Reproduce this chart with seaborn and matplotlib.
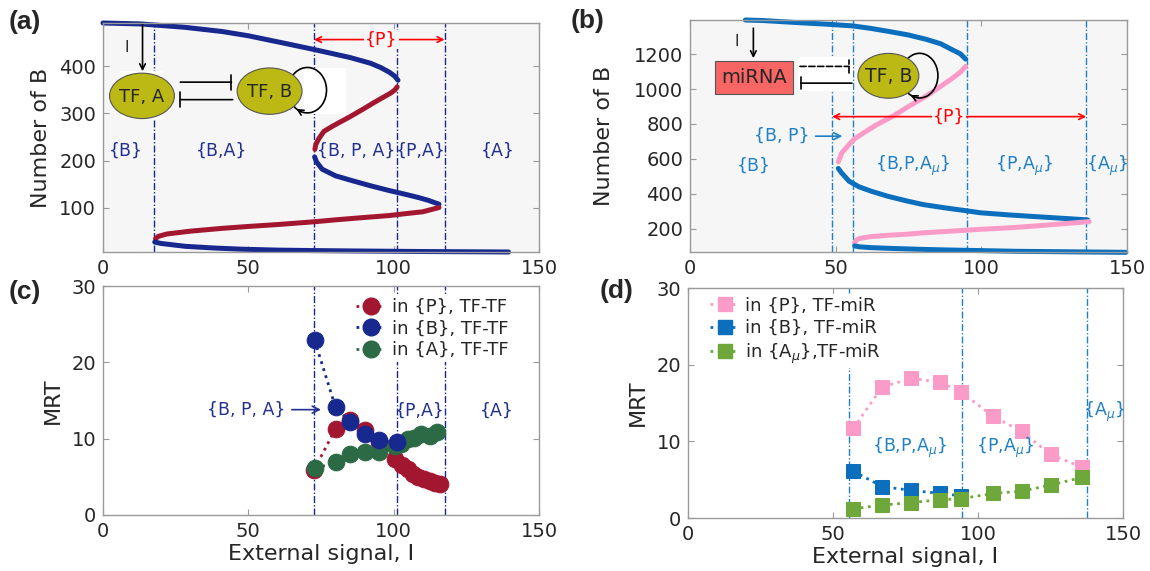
import numpy as np
import matplotlib
matplotlib.use('Agg')
import matplotlib.pyplot as plt
import seaborn as sns
from matplotlib.patches import Ellipse, Rectangle, Arc
from matplotlib.lines import Line2D

# ---------------- data ----------------
# panel (a): TF-TF bifurcation branches
a_top_x = [0, 13, 28, 41, 50, 61, 72.6, 85, 92, 95.5, 98.5, 100.3, 101.5]
a_top_y = [491, 489, 482, 473, 464, 450, 435, 418, 406, 397, 387, 379, 370]
a_uup_x = [101.2, 100.5, 99, 97, 93, 89.5, 85, 79.3, 76, 74.2, 73.2, 72.9]
a_uup_y = [356, 350, 343, 336, 322, 309, 293, 274, 262, 246, 234, 224]
a_mid_x = [72.8, 73.5, 75.4, 80, 85.6, 92, 98.4, 104, 108.6, 112, 115.6]
a_mid_y = [208, 197, 182, 168, 158, 147, 137, 129, 122, 116, 108]
a_ulo_x = [115.6, 110, 104, 98.4, 90, 80, 72.9, 60, 50, 41, 30, 21.9, 19, 18.1]
a_ulo_y = [101, 92, 88, 84, 80, 75, 71, 65, 61, 57, 51, 45, 40, 35]
a_bot_x = [17.8, 20, 28.3, 38, 47.4, 60, 72.9, 90, 110, 125, 139.5]
a_bot_y = [28, 25, 19, 15.5, 13, 11, 10, 9, 8, 7.5, 7]
a_vlines = [17.5, 72.6, 101.3, 117.5]

# panel (b): TF-miRNA bifurcation branches
b_top_x = [19, 25, 37, 47, 55.9, 62, 68.4, 75, 80.9, 86, 89.6, 92.8, 94.6]
b_top_y = [1396, 1393, 1381, 1372, 1362, 1348, 1330, 1310, 1286, 1260, 1229, 1202, 1172]
b_uup_x = [94.6, 93, 90.9, 86, 80.9, 75, 69.6, 64, 59.6, 56.5, 54.6, 52.1, 50.9]
b_uup_y = [1130, 1100, 1072, 1015, 958, 900, 844, 795, 749, 715, 682, 634, 583]
b_mid_x = [50.9, 52, 54.6, 58, 62.1, 68, 74.6, 80, 87.1, 95, 99.6, 110, 118.4, 128, 136.5]
b_mid_y = [545, 520, 472, 440, 415, 385, 358, 338, 320, 302, 291, 278, 269, 259, 250]
b_ulo_x = [137, 128, 118.4, 110, 99.6, 90, 80, 74.6, 68, 62.1, 58.5, 57.1, 56.5]
b_ulo_y = [240, 228, 215, 205, 196, 186, 176, 168, 162, 154, 145, 135, 117]
b_bot_x = [56.5, 58, 62.1, 70, 80, 87.1, 100, 112, 125, 137, 149.6]
b_bot_y = [101, 96, 91, 86, 81, 78, 74, 70, 68, 66, 64]
b_vlines = [48.8, 56, 95, 136]

# panel (c): MRT, TF-TF
c_P_x = [72.6, 80, 85, 90, 95, 100.5, 103, 105, 106.5, 108.5, 110.5, 112.5, 114.3, 116]
c_P_y = [5.9, 11.3, 12.5, 11.2, 9.5, 7.3, 6.6, 6.0, 5.4, 5.0, 4.7, 4.4, 4.2, 4.0]
c_B_x = [72.8, 80, 85, 90, 95, 101.2]
c_B_y = [22.9, 14.1, 12.2, 10.6, 9.8, 9.5]
c_A_x = [73, 80, 85, 90, 95, 100.5, 102.5, 105, 107, 109.5, 112.5, 115]
c_A_y = [6.1, 6.9, 8.0, 8.3, 8.3, 9.0, 9.3, 9.9, 10.1, 10.6, 10.4, 10.9]
c_labels = ['in {P}, TF-TF', 'in {B}, TF-TF', 'in {A}, TF-TF']

# panel (d): MRT, TF-miR
d_P_x = [57, 67, 77, 87, 94, 105, 115, 125, 136]
d_P_y = [11.7, 17.1, 18.2, 17.7, 16.5, 13.3, 11.3, 8.3, 6.6]
d_B_x = [57, 67, 77, 87, 94]
d_B_y = [6.1, 4.1, 3.6, 3.2, 2.9]
d_A_x = [57, 67, 77, 87, 94, 105, 115, 125, 136]
d_A_y = [1.2, 1.7, 2.0, 2.4, 2.5, 3.2, 3.5, 4.3, 5.3]
d_labels = ['in {P}, TF-miR', 'in {B}, TF-miR', r'in {A$_{\mu}$},TF-miR']

x_ticks = [0, 50, 100, 150]

# ---------------- style ----------------
sns.set_style('ticks')
plt.rcParams['font.family'] = ['DejaVu Sans']
plt.rcParams['mathtext.fontset'] = 'dejavusans'

RED = '#a3162f'
NAVY = '#17288f'
GREEN = '#2b6a45'
PINK = '#fb9cc8'
BLUE = '#0b6fbd'
LGREEN = '#6ea83a'
LAB_A = '#22318f'
LAB_B = '#1f80c6'
OLIVE = '#bcb814'
BG = '#f6f6f6'
SP = '#9a9a9a'

fig = plt.figure(figsize=(11.5, 5.71), dpi=100)
W, H = 1150, 571
def frac(l, t, r, b):
    return [l / W, 1 - b / H, (r - l) / W, (b - t) / H]

axA = fig.add_axes(frac(103, 23, 539, 252))
axB = fig.add_axes(frac(690, 20, 1127, 252))
axC = fig.add_axes(frac(103, 286, 539, 515))
axD = fig.add_axes(frac(688, 288, 1123, 518))

def style(ax, bg):
    ax.set_facecolor(bg)
    for s in ax.spines.values():
        s.set_color(SP)
        s.set_linewidth(1.0)
        s.set_visible(True)
    ax.tick_params(direction='in', top=True, right=True, color=SP, length=4,
                   labelcolor='#262626', labelsize=14, pad=5)
    ax.set_xlim(0, 150)
    ax.set_xticks(x_ticks)

for ax, bg in [(axA, BG), (axB, BG), (axC, 'white'), (axD, 'white')]:
    style(ax, bg)

dashdot = (0, (5, 1.5, 1, 1.5))

def branch(ax, x, y, color):
    sns.lineplot(x=x, y=y, ax=ax, color=color, lw=3.6, sort=False, estimator=None,
                 clip_on=False, solid_capstyle='round', zorder=2)

def tbar(ax, start, end, width, ls='-'):
    ax.annotate('', xy=end, xytext=start,
                arrowprops=dict(arrowstyle='|-|,widthA=0,widthB=%.2f' % width, color='k', lw=1.2,
                                ls=ls, shrinkA=0, shrinkB=0), zorder=5)

def selfloop(ax, cx, cy, rx, ry, t1, t2):
    # arc drawn clockwise from t2 (top) to t1 (bottom), arrow head at t1; hidden behind the ellipse
    ax.add_patch(Arc((cx, cy), 2 * rx, 2 * ry, theta1=t1 + 8, theta2=t2, color='k', lw=1.2, zorder=4.2))
    p_end = (cx + rx * np.cos(np.radians(t1)), cy + ry * np.sin(np.radians(t1)))
    p_pre = (cx + rx * np.cos(np.radians(t1 + 14)), cy + ry * np.sin(np.radians(t1 + 14)))
    ax.annotate('', xy=p_end, xytext=p_pre,
                arrowprops=dict(arrowstyle='->', color='k', lw=1.2, shrinkA=0, shrinkB=0), zorder=5)

# ---------------- (a) ----------------
axA.set_ylim(7, 491)
axA.set_yticks([100, 200, 300, 400])
for v in a_vlines:
    axA.axvline(v, color=NAVY, lw=1, ls=dashdot, zorder=1)
branch(axA, a_top_x, a_top_y, NAVY)
branch(axA, a_uup_x, a_uup_y, RED)
branch(axA, a_mid_x, a_mid_y, NAVY)
branch(axA, a_ulo_x, a_ulo_y, RED)
branch(axA, a_bot_x, a_bot_y, NAVY)
axA.set_ylabel('Number of B', fontsize=16, color='#262626', labelpad=6)
axA.set_xlabel('')
for xx, t in [(7.9, '{B}'), (40.7, '{B,A}'), (87, '{B, P, A}'), (109.2, '{P,A}'), (136, '{A}')]:
    axA.text(xx, 221, t, color=LAB_A, fontsize=12.5, ha='center', va='center', zorder=5)
axA.annotate('', xy=(72.6, 456), xytext=(117.5, 456),
             arrowprops=dict(arrowstyle='<->', color='red', lw=1.2, shrinkA=0, shrinkB=0), zorder=5)
axA.text(95.8, 456, '{P}', color='red', fontsize=12.5, ha='center', va='center', zorder=6,
         bbox=dict(boxstyle='square,pad=0.05', fc=BG, ec='none'))
# inset network diagram
axA.add_patch(Rectangle((6, 288), 14.6, 102, fc='white', ec='none', zorder=3))
axA.add_patch(Rectangle((69.1, 298), 14.6, 98.5, fc='white', ec='none', zorder=3))
selfloop(axA, 70.3, 349, 6.6, 48, -125, 130)
axA.add_patch(Ellipse((13.4, 337), 22.3, 96, fc=OLIVE, ec='#555555', lw=0.8, zorder=4))
axA.add_patch(Ellipse((57.3, 347), 22.3, 98, fc=OLIVE, ec='#555555', lw=0.8, zorder=4.5))
axA.text(13.4, 335, 'TF, A', fontsize=13, ha='center', va='center', zorder=5)
axA.text(57.3, 345, 'TF, B', fontsize=13, ha='center', va='center', zorder=5)
axA.text(8, 440, 'I', fontsize=11, ha='center', va='center', zorder=5)
axA.annotate('', xy=(13.6, 389), xytext=(13.6, 487),
             arrowprops=dict(arrowstyle='->', color='k', lw=1.2, shrinkA=0, shrinkB=0), zorder=5)
tbar(axA, (26.6, 366), (44.2, 366), 0.55)
tbar(axA, (44.6, 329), (26.6, 329), 0.55)

# ---------------- (b) ----------------
axB.set_ylim(66, 1396)
axB.set_yticks([200, 400, 600, 800, 1000, 1200])
for v in b_vlines:
    axB.axvline(v, color=LAB_B, lw=1, ls=dashdot, zorder=1)
branch(axB, b_top_x, b_top_y, BLUE)
branch(axB, b_uup_x, b_uup_y, PINK)
branch(axB, b_mid_x, b_mid_y, BLUE)
branch(axB, b_ulo_x, b_ulo_y, PINK)
branch(axB, b_bot_x, b_bot_y, BLUE)
axB.set_ylabel('Number of B', fontsize=16, color='#262626', labelpad=14)
axB.set_xlabel('')
for xx, yy, t in [(21.9, 558, '{B}'), (76.5, 558, r'{B,P,A$_{\mu}$}'),
                  (114.6, 558, r'{P,A$_{\mu}$}'), (143, 558, r'{A$_{\mu}$}')]:
    axB.text(xx, yy, t, color=LAB_B, fontsize=12.5, ha='center', va='center', zorder=5)
axB.annotate('', xy=(48.8, 842), xytext=(136, 842),
             arrowprops=dict(arrowstyle='<->', color='red', lw=1.2, shrinkA=0, shrinkB=0), zorder=5)
axB.text(89, 842, '{P}', color='red', fontsize=12.5, ha='center', va='center', zorder=6,
         bbox=dict(boxstyle='square,pad=0.05', fc=BG, ec='none'))
axB.annotate('{B, P}', xy=(52.3, 730), xytext=(31.5, 730), color=LAB_B, fontsize=12.5,
             ha='center', va='center', zorder=5,
             arrowprops=dict(arrowstyle='->', color=LAB_B, lw=1.2, shrinkA=2, shrinkB=0))
axB.add_patch(Rectangle((37.1, 987), 18.8, 196, fc='white', ec='none', zorder=3))
axB.add_patch(Rectangle((8.6, 971), 26.6, 191, fc='#f86565', ec='#555555', lw=0.8, zorder=4))
axB.text(21.9, 1066, 'miRNA', fontsize=14, ha='center', va='center', zorder=5)
selfloop(axB, 78.8, 1077, 6.3, 128, -120, 120)
axB.add_patch(Ellipse((68.1, 1076), 20.9, 257, fc=OLIVE, ec='#555555', lw=0.8, zorder=4.5))
axB.text(68.1, 1070, 'TF, B', fontsize=13.5, ha='center', va='center', zorder=5)
axB.text(15.9, 1272, 'I', fontsize=11, ha='center', va='center', zorder=5)
axB.annotate('', xy=(21.75, 1177), xytext=(21.75, 1349),
             arrowprops=dict(arrowstyle='->', color='k', lw=1.2, shrinkA=0, shrinkB=0), zorder=5)
tbar(axB, (37.75, 1130), (54.6, 1130), 0.45, ls='--')
tbar(axB, (55.6, 1034), (38.1, 1034), 0.45)

# ---------------- (c) ----------------
axC.set_ylim(0, 30)
axC.set_yticks([0, 10, 20, 30])
for v in a_vlines[1:]:
    axC.axvline(v, color=NAVY, lw=1, ls=dashdot, zorder=1)
for x, y, c in [(c_P_x, c_P_y, RED), (c_A_x, c_A_y, GREEN), (c_B_x, c_B_y, NAVY)]:
    sns.lineplot(x=x, y=y, ax=axC, color=c, ls=':', lw=2, marker='o', markersize=12,
                 markeredgecolor=c, sort=False, estimator=None, zorder=3)
axC.set_ylabel('MRT', fontsize=16, color='#262626', labelpad=6)
axC.set_xlabel('External signal, I', fontsize=16, color='#262626', labelpad=2)
hc = [Line2D([0], [0], color=c, ls=':', lw=2, marker='o', markersize=12, markeredgecolor=c)
      for c in (RED, NAVY, GREEN)]
legC = axC.legend(hc, c_labels, loc='upper left', bbox_to_anchor=(0.575, 0.96), fontsize=13,
                  frameon=True, framealpha=1, facecolor='white', edgecolor='none',
                  handlelength=1.6, handletextpad=0.35, labelspacing=0.2, borderpad=0.15,
                  borderaxespad=0)
legC.set_zorder(4)
axC.annotate('{B, P, A}', xy=(75, 13.8), xytext=(49.4, 13.8), color=LAB_A, fontsize=12.5,
             ha='center', va='center', zorder=5,
             arrowprops=dict(arrowstyle='->', color=LAB_A, lw=1.2, shrinkA=2, shrinkB=0))
axC.text(109.1, 13.6, '{P,A}', color=LAB_A, fontsize=12.5, ha='center', va='center', zorder=5)
axC.text(135.6, 13.6, '{A}', color=LAB_A, fontsize=12.5, ha='center', va='center', zorder=5)

# ---------------- (d) ----------------
axD.set_ylim(0, 30)
axD.set_yticks([0, 10, 20, 30])
for v in [55.5, 94.5, 137.5]:
    axD.axvline(v, color=LAB_B, lw=1, ls=dashdot, zorder=1)
for x, y, c in [(d_P_x, d_P_y, PINK), (d_B_x, d_B_y, BLUE), (d_A_x, d_A_y, LGREEN)]:
    sns.lineplot(x=x, y=y, ax=axD, color=c, ls=':', lw=2, marker='s', markersize=10.5,
                 markeredgecolor=c, sort=False, estimator=None, zorder=3)
axD.set_ylabel('MRT', fontsize=16, color='#262626', labelpad=6)
axD.set_xlabel('External signal, I', fontsize=16, color='#262626', labelpad=2)
hd = [Line2D([0], [0], color=c, ls=':', lw=2, marker='s', markersize=10.5, markeredgecolor=c)
      for c in (PINK, BLUE, LGREEN)]
legD = axD.legend(hd, d_labels, loc='upper left', bbox_to_anchor=(0.045, 0.975), fontsize=13,
                  frameon=True, framealpha=1, facecolor='white', edgecolor='none',
                  handlelength=1.6, handletextpad=0.35, labelspacing=0.25, borderpad=0.15,
                  borderaxespad=0)
legD.set_zorder(4)
axD.text(76.4, 9.1, r'{B,P,A$_{\mu}$}', color=LAB_B, fontsize=12.5, ha='center', va='center', zorder=5)
axD.text(109.5, 9.1, r'{P,A$_{\mu}$}', color=LAB_B, fontsize=12.5, ha='center', va='center', zorder=5)
axD.text(143.4, 13.8, r'{A$_{\mu}$}', color=LAB_B, fontsize=12.5, ha='center', va='center', zorder=5)

# panel letters
for xx, yy, t in [(25, 22, '(a)'), (588, 21, '(b)'), (25, 292, '(c)'), (617, 291, '(d)')]:
    fig.text(xx / W, 1 - yy / H, t, fontsize=19, fontweight='bold', ha='center', va='center',
             family=['Liberation Sans', 'DejaVu Sans'])

fig.savefig('out.png', dpi=100)
